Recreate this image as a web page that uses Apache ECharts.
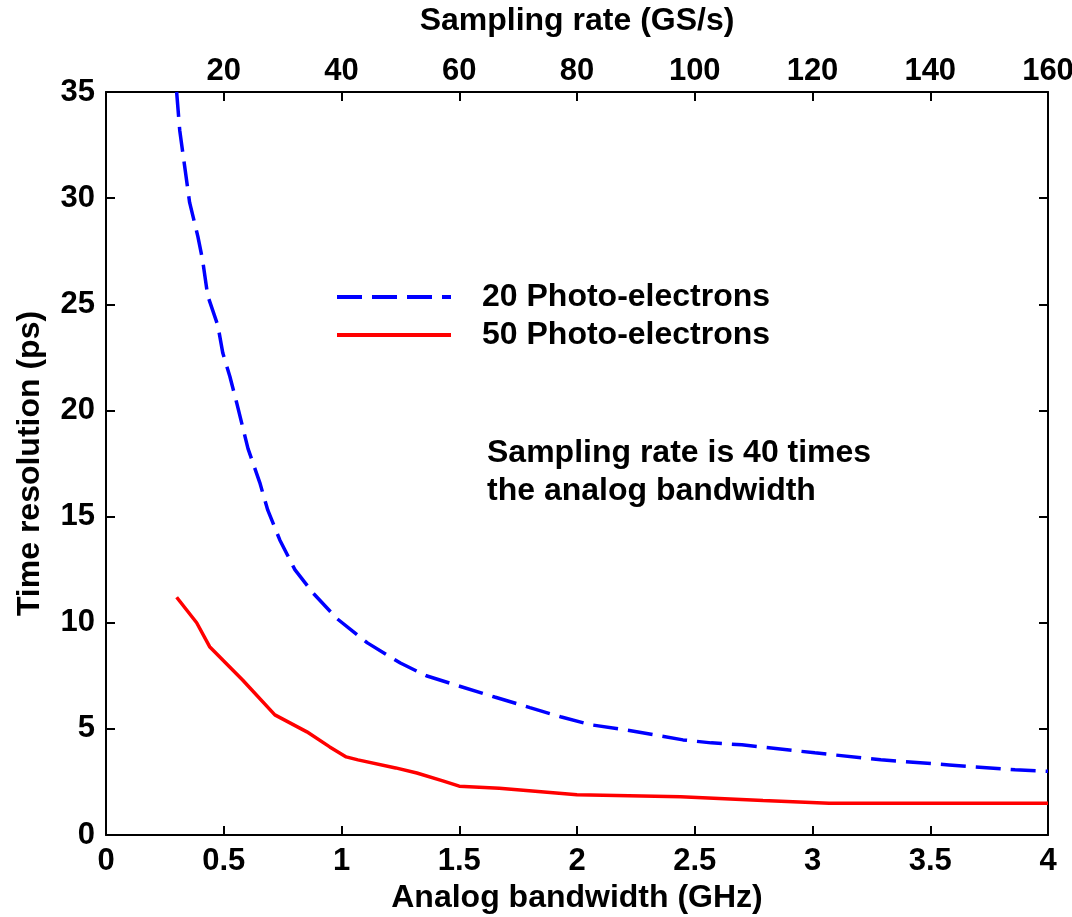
<!DOCTYPE html>
<html>
<head>
<meta charset="utf-8">
<title>Time resolution vs analog bandwidth</title>
<script src="https://cdn.jsdelivr.net/npm/echarts@6/dist/echarts.min.js"></script>
<style>
  html, body { margin: 0; padding: 0; background: #fff; }
  #chart { width: 1072px; height: 917px; }
</style>
</head>
<body>
<div id="chart"></div>
<script>
// Analog bandwidth (GHz) vs time resolution (ps), 20 photo-electrons
const pe20 = [
  [0.30, 35.0], [0.313, 33.2], [0.334, 31.5], [0.355, 29.8], [0.39, 28.2],
  [0.41, 27.1], [0.432, 25.4], [0.475, 24.0], [0.496, 22.7], [0.526, 21.6],
  [0.554, 20.4], [0.603, 18.2], [0.653, 16.6], [0.687, 15.3], [0.738, 13.9],
  [0.802, 12.5], [0.879, 11.4], [0.98, 10.2], [1.11, 9.05], [1.25, 8.1],
  [1.36, 7.5], [1.49, 7.05], [1.65, 6.5], [1.80, 6.0], [1.93, 5.57],
  [2.06, 5.19], [2.21, 4.95], [2.45, 4.48], [2.57, 4.34], [2.70, 4.25],
  [3.01, 3.87], [3.29, 3.54], [3.58, 3.30], [3.86, 3.07], [4.0, 3.0]
];

// Analog bandwidth (GHz) vs time resolution (ps), 50 photo-electrons
const pe50 = [
  [0.30, 11.2], [0.385, 10.0], [0.44, 8.87], [0.58, 7.3], [0.717, 5.66],
  [0.853, 4.86], [0.95, 4.15], [1.02, 3.68], [1.07, 3.54], [1.23, 3.16],
  [1.32, 2.92], [1.43, 2.55], [1.50, 2.3], [1.67, 2.2], [2.0, 1.9],
  [2.44, 1.8], [2.79, 1.62], [3.07, 1.5], [4.0, 1.5]
];

const seriesNames = ['20 Photo-electrons', '50 Photo-electrons'];
const bandwidthTicks = { min: 0, max: 4, step: 0.5 };
const samplingTicks = { min: 0, max: 160, step: 20 };
const resolutionTicks = { min: 0, max: 35, step: 5 };
const noteLines = ['Sampling rate is 40 times', 'the analog bandwidth'];

const FONT = '"Liberation Sans", Arial, sans-serif';
const axisLine = { show: true, onZero: false, lineStyle: { color: '#000', width: 2 } };
const tickIn = { show: true, inside: true, length: 9, lineStyle: { color: '#000', width: 2 } };
const tickLabel = { color: '#000', fontFamily: FONT, fontWeight: 'bold', fontSize: 31 };
const nameStyle = { color: '#000', fontFamily: FONT, fontWeight: 'bold', fontSize: 32 };

const chart = echarts.init(document.getElementById('chart'));
chart.setOption({
  backgroundColor: '#fff',
  animation: false,
  grid: { left: 106, right: 24, top: 92, bottom: 82, containLabel: false, outerBoundsMode: 'none' },
  legend: {
    orient: 'vertical',
    left: 330,
    top: 276,
    itemWidth: 114,
    itemHeight: 14,
    itemGap: 6,
    data: seriesNames,
    // line sample only, no marker in the key
    itemStyle: { opacity: 0 },
    lineStyle: { width: 4 },
    textStyle: { color: '#000', fontFamily: FONT, fontWeight: 'bold', fontSize: 32,
                 lineHeight: 32, padding: [0, 0, 0, 26] }
  },
  xAxis: [
    {
      type: 'value', position: 'bottom',
      min: bandwidthTicks.min, max: bandwidthTicks.max, interval: bandwidthTicks.step,
      name: 'Analog bandwidth (GHz)', nameLocation: 'middle', nameGap: 46,
      nameTextStyle: nameStyle,
      axisLine: axisLine, axisTick: tickIn, splitLine: { show: false },
      axisLabel: Object.assign({ margin: 11 }, tickLabel)
    },
    {
      type: 'value', position: 'top',
      min: samplingTicks.min, max: samplingTicks.max, interval: samplingTicks.step,
      name: 'Sampling rate (GS/s)', nameLocation: 'middle', nameGap: 55,
      nameTextStyle: nameStyle,
      axisLine: axisLine, axisTick: tickIn, splitLine: { show: false },
      axisLabel: Object.assign({ margin: 5, showMinLabel: false }, tickLabel)
    }
  ],
  yAxis: [
    {
      type: 'value', position: 'left',
      min: resolutionTicks.min, max: resolutionTicks.max, interval: resolutionTicks.step,
      name: 'Time resolution (ps)', nameLocation: 'middle', nameGap: 60,
      nameTextStyle: nameStyle,
      axisLine: axisLine, axisTick: tickIn, splitLine: { show: false },
      axisLabel: Object.assign({ margin: 11 }, tickLabel)
    },
    {
      type: 'value', position: 'right',
      min: resolutionTicks.min, max: resolutionTicks.max, interval: resolutionTicks.step,
      axisLine: axisLine, axisTick: tickIn, splitLine: { show: false },
      axisLabel: { show: false }
    }
  ],
  series: [
    {
      name: seriesNames[0], type: 'line', data: pe20,
      xAxisIndex: 0, yAxisIndex: 0,
      symbol: 'none', clip: true,
      lineStyle: { color: '#0000ff', width: 3.5, type: [25, 10] },
      itemStyle: { color: '#0000ff' }
    },
    {
      name: seriesNames[1], type: 'line', data: pe50,
      xAxisIndex: 0, yAxisIndex: 0,
      symbol: 'none', clip: true,
      lineStyle: { color: '#ff0000', width: 3.5, type: 'solid' },
      itemStyle: { color: '#ff0000' }
    }
  ],
  graphic: [
    {
      type: 'text', left: 487, top: 434,
      style: {
        text: noteLines.join('\n'),
        fill: '#000', font: 'bold 32px ' + FONT, lineHeight: 38
      }
    }
  ]
});
</script>
</body>
</html>
